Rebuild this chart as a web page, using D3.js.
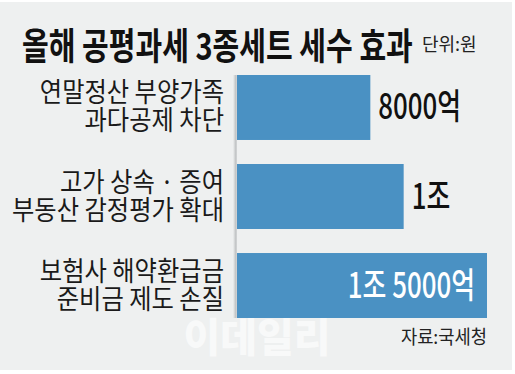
<!DOCTYPE html>
<html>
<head>
<meta charset="utf-8">
<script src="https://cdn.jsdelivr.net/npm/d3@7"></script>
<style>
	body { margin: 0; background: #fff; }
	svg { display: block; }
	text { font-family: "Noto Sans CJK KR", "Noto Sans", sans-serif; }
</style>
</head>
<body>
<div class="chart"></div>
<script>
	// chart data (unit: 억원)
	var categories = [
		["연말정산 부양가족", "과다공제 차단"],
		["고가 상속 · 증여", "부동산 감정평가 확대"],
		["보험사 해약환급금", "준비금 제도 손질"]
	];
	var values = [8000, 10000, 15000];
	var valueLabels = ["8000억", "1조", "1조 5000억"];

	var width = 515,
		height = 374;

	// the original uses a narrow gothic face, so squeeze text horizontally
	var squeeze = 0.9,
		squeezeValue = 0.74;

	var svg = d3.select(".chart").append("svg")
		.attr("width", width)
		.attr("height", height);

	// shadow gradient for the left panel edge
	var defs = svg.append("defs");
	var grad = defs.append("linearGradient").attr("id", "shade")
		.attr("x1", 0).attr("x2", 1).attr("y1", 0).attr("y2", 0);
	grad.append("stop").attr("offset", "0%").attr("stop-color", "#eef0f0");
	grad.append("stop").attr("offset", "70%").attr("stop-color", "#bfc2c3");
	grad.append("stop").attr("offset", "100%").attr("stop-color", "#d8dadb");

	// background panel
	svg.append("rect")
		.attr("x", 0).attr("y", 2)
		.attr("width", 512).attr("height", 368)
		.attr("fill", "#eef0f0");

	// title, squeezed to the width it has in the original
	var title = svg.append("text")
		.attr("font-size", 37)
		.attr("font-weight", 700)
		.attr("fill", "#111")
		.text("올해 공평과세 3종세트 세수 효과");
	var titleScale = 391 / title.node().getComputedTextLength();
	title.attr("transform", "translate(22,60) scale(" + titleScale + ",1)");

	svg.append("text")
		.attr("x", 422).attr("y", 51)
		.attr("font-size", 18)
		.attr("fill", "#222")
		.text("단위:원");

	// scales
	var x = d3.scaleLinear()
		.domain([0, 15000])
		.range([237, 487]);

	var y = d3.scaleBand()
		.domain(d3.range(values.length))
		.range([75, 318])
		.paddingInner(0.27)
		.paddingOuter(0);

	// bars
	svg.selectAll("rect.bar")
		.data(values).enter()
		.append("rect")
		.attr("class", "bar")
		.attr("x", x(0))
		.attr("y", function(d, i) { return y(i); })
		.attr("width", function(d) { return x(d) - x(0); })
		.attr("height", y.bandwidth())
		.attr("fill", "#4a91c3");

	// shadow edge left of the bars
	svg.append("rect")
		.attr("x", x(0) - 4)
		.attr("y", y(0))
		.attr("width", 4)
		.attr("height", y(values.length - 1) + y.bandwidth() - y(0))
		.attr("fill", "url(#shade)");

	// category labels, two lines in one text each
	var labels = svg.selectAll("text.label")
		.data(categories).enter()
		.append("text")
		.attr("class", "label")
		.attr("transform", function(d, i) {
			return "translate(224," + (y(i) + y.bandwidth() / 2) + ") scale(" + squeeze + ",1)";
		})
		.attr("text-anchor", "end")
		.attr("font-size", 27)
		.attr("fill", "#1a1a1a");

	labels.selectAll("tspan")
		.data(function(d) { return d; })
		.enter().append("tspan")
		.attr("x", 0)
		.attr("y", function(d, j) { return j == 0 ? -5 : 23; })
		.text(function(d) { return d; });

	// value labels
	svg.selectAll("text.value")
		.data(values).enter()
		.append("text")
		.attr("class", "value")
		.attr("transform", function(d, i) {
			var last = i == values.length - 1;
			var tx = last ? x(d) - 12 : x(d) + 8;
			return "translate(" + tx + "," + (y(i) + y.bandwidth() / 2 + 12) + ") scale(" + squeezeValue + ",1)";
		})
		.attr("text-anchor", function(d, i) { return i == values.length - 1 ? "end" : "start"; })
		.attr("font-size", 35)
		.attr("font-weight", 500)
		.attr("fill", function(d, i) { return i == values.length - 1 ? "#fff" : "#111"; })
		.text(function(d, i) { return valueLabels[i]; });

	// watermark
	svg.append("text")
		.attr("x", 257).attr("y", 352)
		.attr("text-anchor", "middle")
		.attr("font-size", 40)
		.attr("font-weight", 900)
		.attr("fill", "#fff")
		.attr("opacity", 0.6)
		.text("이데일리");

	// source
	svg.append("text")
		.attr("transform", "translate(487,344) scale(0.93,1)")
		.attr("text-anchor", "end")
		.attr("font-size", 19)
		.attr("fill", "#222")
		.text("자료:국세청");
</script>
</body>
</html>
